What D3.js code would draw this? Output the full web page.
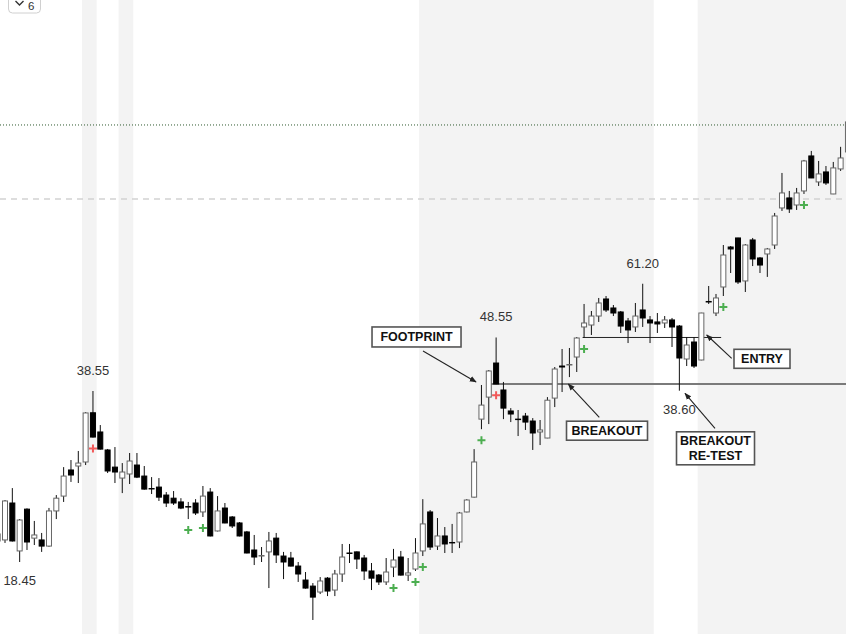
<!DOCTYPE html>
<html>
<head>
<meta charset="utf-8">
<script src="https://cdn.jsdelivr.net/npm/d3@7"></script>
<style>
  html, body { margin: 0; padding: 0; background: #fff; overflow: hidden; }
  svg { display: block; font-family: "Liberation Sans", Arial, Helvetica, sans-serif; }
</style>
</head>
<body>
<svg id="chart" width="846" height="634"></svg>
<script>
// ---- Daily price bars (session index -1 .. 115) ----
const firstIndex = -1;
const opens = [
  20.20, 20.29, 23.79, 19.35, 23.17, 20.45, 20.29, 19.76, 22.99, 24.51,
  27.43, 27.90, 28.39, 35.10, 32.31, 29.90, 27.77, 26.49, 26.96, 28.02,
  26.72, 25.32, 25.48, 24.62, 24.29, 23.90, 23.43, 23.79, 22.89, 24.94,
  21.09, 23.28, 22.40, 21.83, 21.00, 19.43, 18.93, 19.27, 20.45, 18.93,
  18.77, 18.13, 17.07, 16.63, 16.21, 17.21, 16.35, 17.52, 19.18, 19.27,
  18.77, 17.75, 17.44, 16.93, 18.05, 18.85, 17.44, 17.90, 19.35, 22.89,
  19.76, 20.64, 20.07, 20.11, 22.89, 24.40, 34.15, 37.55, 43.49, 38.72,
  35.37, 34.15, 34.60, 33.87, 32.31, 31.48, 37.39, 42.93, 43.12, 44.63,
  50.80, 51.23, 53.25, 57.31, 55.13, 54.19, 52.13, 50.80, 54.66, 52.36,
  51.91, 51.68, 52.36, 51.00, 44.25, 47.61, 44.06, 56.70, 53.95, 60.35,
  71.70, 74.55, 61.94, 73.91, 68.39, 69.58, 72.32, 84.84, 88.58, 85.93,
  91.29, 106.15, 94.90, 99.08, 90.11, 100.37, 108.00
];
const highs = [
  21.00, 24.10, 25.37, 22.20, 23.25, 22.02, 20.91, 23.29, 24.62, 27.77,
  28.63, 29.77, 35.20, 38.55, 33.29, 30.03, 30.28, 28.26, 29.51, 29.51,
  27.90, 26.60, 26.49, 24.94, 25.05, 24.29, 23.90, 24.19, 25.60, 25.37,
  24.51, 23.79, 22.49, 21.92, 21.09, 20.73, 19.68, 21.00, 20.91, 19.27,
  19.27, 18.45, 17.67, 16.85, 17.29, 17.29, 17.83, 19.94, 19.94, 19.31,
  19.02, 18.37, 17.52, 18.77, 19.52, 19.35, 18.77, 20.45, 24.19, 23.08,
  22.30, 21.45, 21.74, 22.89, 24.19, 30.01, 39.56, 42.20, 48.55, 40.08,
  35.81, 35.52, 35.07, 34.30, 34.02, 37.55, 42.75, 46.20, 46.40, 48.65,
  56.09, 54.42, 57.56, 58.05, 55.84, 54.42, 52.81, 56.33, 61.20, 53.25,
  53.95, 53.25, 52.81, 51.23, 48.65, 48.65, 54.00, 60.61, 58.56, 72.32,
  72.01, 74.60, 72.63, 74.55, 68.68, 71.40, 83.03, 98.65, 91.29, 92.48,
  104.34, 108.47, 103.89, 101.65, 103.44, 110.40, 123.97
];
const lows = [
  19.94, 20.03, 20.15, 18.45, 19.43, 19.85, 19.27, 19.70, 22.20, 23.90,
  26.05, 25.93, 28.02, 31.55, 29.95, 27.07, 25.93, 24.83, 25.82, 26.49,
  25.20, 24.73, 24.00, 23.38, 23.59, 23.17, 22.20, 22.59, 22.40, 20.60,
  21.05, 21.80, 21.36, 20.60, 19.15, 18.21, 18.45, 16.49, 18.37, 17.14,
  18.10, 16.93, 16.45, 14.37, 16.07, 15.93, 15.93, 16.93, 18.37, 17.90,
  17.07, 16.35, 16.71, 16.71, 17.29, 17.40, 17.00, 17.75, 18.93, 19.43,
  19.43, 19.18, 19.18, 19.59, 22.85, 24.35, 32.70, 33.43, 39.70, 34.15,
  33.72, 31.75, 32.59, 29.90, 30.54, 31.45, 35.97, 38.38, 40.93, 41.84,
  48.44, 49.07, 51.91, 54.19, 53.25, 49.50, 47.40, 49.71, 50.80, 47.40,
  49.50, 50.58, 46.60, 38.60, 42.93, 42.57, 44.00, 56.09, 53.25, 58.05,
  64.10, 61.14, 59.06, 66.05, 64.10, 63.03, 71.09, 83.75, 83.03, 84.11,
  90.11, 96.50, 93.28, 93.69, 90.05, 99.51, 107.90
];
const closes = [
  20.82, 24.00, 20.20, 22.11, 20.11, 20.73, 19.76, 22.99, 24.29, 26.72,
  26.84, 28.26, 35.07, 31.61, 30.01, 27.31, 27.19, 27.19, 28.51, 26.60,
  25.26, 25.30, 24.40, 23.79, 23.79, 23.28, 23.38, 22.79, 24.51, 20.64,
  22.99, 21.83, 21.55, 20.64, 19.18, 18.85, 18.97, 20.20, 19.02, 18.45,
  18.13, 17.52, 16.49, 15.86, 17.00, 16.28, 17.52, 18.85, 19.14, 18.69,
  17.75, 17.21, 16.93, 17.67, 18.61, 17.44, 17.60, 19.18, 21.74, 19.68,
  20.64, 19.94, 20.03, 22.79, 24.10, 28.39, 36.28, 42.02, 39.73, 35.81,
  34.91, 34.08, 33.72, 32.17, 32.59, 37.05, 42.38, 42.75, 43.21, 48.44,
  51.68, 53.25, 56.33, 54.66, 53.95, 51.00, 50.15, 53.25, 52.81, 51.68,
  51.46, 52.36, 50.80, 44.44, 47.00, 42.93, 53.95, 56.57, 57.56, 69.27,
  71.09, 61.67, 72.32, 68.09, 66.34, 71.09, 81.95, 90.50, 84.47, 90.50,
  103.89, 96.55, 98.23, 94.49, 100.81, 105.24, 122.91
];

// Buy / sell signal sessions
const buySignals = [25, 27, 53, 56, 57, 65, 79, 98, 109];
const sellSignals = [12, 67];

// Shaded session ranges (inclusive)
const shadedRanges = [[11, 12], [16, 17], [57, 88], [95, 115]];

// Price reference levels
const upperDottedLevel = 121.31;
const upperDashedLevel = 88.20;
const footprintIndex = 67;
const pivotRange = [79, 97.7];

// Sessions whose extreme price is printed
const highLabelIndexes = [12, 67, 87];
const lowLabelIndexes = [2, 92];

// Callout text and the point each arrow targets (session index, price)
const calloutTexts = [["FOOTPRINT"], ["BREAKOUT"], ["BREAKOUT", "RE-TEST"], ["ENTRY"]];
const calloutTargets = [[64.26, 40.08], [76.85, 39.73], [92.77, 38.17], [95.73, 49.07]];

// ---- Build ----
const W = 846, H = 634;
const bars = opens.map((o, k) => ({
  i: firstIndex + k, open: o, high: highs[k], low: lows[k], close: closes[k]
}));
const byIndex = new Map(bars.map(d => [d.i, d]));

const x = d3.scaleLinear().domain([-1, 115]).range([-2.33, 847.95]);
const y = d3.scaleLog().domain([18.45, 38.55]).range([562, 391]);

const svg = d3.select("#chart");

// shaded periods
svg.append("g").selectAll("rect").data(shadedRanges).join("rect")
  .attr("x", d => x(d[0] - 0.5))
  .attr("width", d => x(d[1] + 0.5) - x(d[0] - 0.5))
  .attr("y", 0).attr("height", H)
  .attr("fill", "#f3f3f3");

// reference levels across the full width
svg.append("line")
  .attr("x1", 0).attr("x2", W)
  .attr("y1", y(upperDottedLevel)).attr("y2", y(upperDottedLevel))
  .attr("stroke", "#2f5a2f").attr("stroke-width", 1)
  .attr("stroke-dasharray", "1,2");
svg.append("line")
  .attr("x1", 0).attr("x2", W)
  .attr("y1", y(upperDashedLevel)).attr("y2", y(upperDashedLevel))
  .attr("stroke", "#d2d2d2").attr("stroke-width", 1.5)
  .attr("stroke-dasharray", "6,5");

// breakout level from the footprint close, pivot at the footprint high
const fp = byIndex.get(footprintIndex);
svg.append("line")
  .attr("x1", x(footprintIndex - 0.75)).attr("x2", W)
  .attr("y1", y(fp.close)).attr("y2", y(fp.close))
  .attr("stroke", "#7a7a7a").attr("stroke-width", 2);
svg.append("line")
  .attr("x1", x(pivotRange[0] - 0.2)).attr("x2", x(pivotRange[1]))
  .attr("y1", y(fp.high)).attr("y2", y(fp.high))
  .attr("stroke", "#222").attr("stroke-width", 1);

// candles
const bodyW = 5;
const cg = svg.append("g");
cg.selectAll("line").data(bars).join("line")
  .attr("x1", d => x(d.i)).attr("x2", d => x(d.i))
  .attr("y1", d => y(d.high)).attr("y2", d => y(d.low))
  .attr("stroke", "#111").attr("stroke-width", 1);
cg.selectAll("rect").data(bars).join("rect")
  .attr("x", d => x(d.i) - bodyW / 2)
  .attr("width", bodyW)
  .attr("y", d => y(Math.max(d.open, d.close)))
  .attr("height", d => Math.max(0.4, Math.abs(y(d.open) - y(d.close))))
  .attr("fill", d => d.close >= d.open ? "#fff" : "#000")
  .attr("stroke", d => d.close >= d.open ? "#666" : "#000")
  .attr("stroke-width", 1);

// signal crosses under the bar lows
function cross(sel, color) {
  sel.attr("d", d => {
    const cx = x(d), cy = y(byIndex.get(d).low) + 11, r = 4;
    return `M${cx - r},${cy}H${cx + r}M${cx},${cy - r}V${cy + r}`;
  }).attr("stroke", color).attr("stroke-width", 2).attr("fill", "none");
}
svg.append("g").selectAll("path").data(buySignals).join("path").call(cross, "#4cae50");
svg.append("g").selectAll("path").data(sellSignals).join("path").call(cross, "#f25a5a");

// extreme price labels
const fmt = d3.format(".2f");
svg.append("g").selectAll("text").data(highLabelIndexes).join("text")
  .attr("x", d => x(d)).attr("y", d => y(byIndex.get(d).high) - 16)
  .attr("text-anchor", "middle").attr("font-size", 13).attr("fill", "#333")
  .text(d => fmt(byIndex.get(d).high));
svg.append("g").selectAll("text").data(lowLabelIndexes).join("text")
  .attr("x", d => x(d)).attr("y", d => y(byIndex.get(d).low) + 23)
  .attr("text-anchor", "middle").attr("font-size", 13).attr("fill", "#333")
  .text(d => fmt(byIndex.get(d).low));

// callouts: arrow tail offset, box centre offset and box size relative to the target
const calloutLayout = [
  { tail: [-53, -31], box: [-59.5, -45], size: [89, 20] },
  { tail: [31, 33.4], box: [38.7, 46.7], size: [81, 19] },
  { tail: [30, 35], box: [30.5, 55], size: [78, 33] },
  { tail: [25, 23.3], box: [55.3, 23.8], size: [56, 19] }
];
const defs = svg.append("defs");
defs.append("marker")
  .attr("id", "arrowhead")
  .attr("viewBox", "0 0 10 10").attr("refX", 9).attr("refY", 5)
  .attr("markerWidth", 7).attr("markerHeight", 7)
  .attr("markerUnits", "userSpaceOnUse")
  .attr("orient", "auto")
  .append("path").attr("d", "M0,1 L10,5 L0,9 Z").attr("fill", "#222");

const callouts = calloutTexts.map((lines, k) => ({
  lines, tx: x(calloutTargets[k][0]), ty: y(calloutTargets[k][1]), lay: calloutLayout[k]
}));
const cgrp = svg.append("g").selectAll("g").data(callouts).join("g");
cgrp.append("line")
  .attr("x1", d => d.tx + d.lay.tail[0]).attr("y1", d => d.ty + d.lay.tail[1])
  .attr("x2", d => d.tx).attr("y2", d => d.ty)
  .attr("stroke", "#222").attr("stroke-width", 1.1)
  .attr("marker-end", "url(#arrowhead)");
cgrp.append("rect")
  .attr("x", d => d.tx + d.lay.box[0] - d.lay.size[0] / 2)
  .attr("y", d => d.ty + d.lay.box[1] - d.lay.size[1] / 2)
  .attr("width", d => d.lay.size[0]).attr("height", d => d.lay.size[1])
  .attr("fill", "#fff").attr("stroke", "#555").attr("stroke-width", 1.6);
cgrp.each(function (d) {
  const g = d3.select(this);
  const n = d.lines.length, lh = 15;
  d.lines.forEach((t, j) => {
    g.append("text")
      .attr("x", d.tx + d.lay.box[0])
      .attr("y", d.ty + d.lay.box[1] + (j - (n - 1) / 2) * lh + 4.5)
      .attr("text-anchor", "middle")
      .attr("font-size", 12.5).attr("font-weight", "bold").attr("fill", "#111")
      .text(t);
  });
});

// period selector in the corner
const sel = svg.append("g");
sel.append("rect").attr("x", 8.5).attr("y", -8).attr("width", 32).attr("height", 21)
  .attr("rx", 4).attr("fill", "#fff").attr("stroke", "#d0d0d0");
sel.append("path").attr("d", "M15.5,1 L19.5,5 L23.5,1")
  .attr("fill", "none").attr("stroke", "#333").attr("stroke-width", 1.4);
sel.append("text").attr("x", 28).attr("y", 10).attr("font-size", 11.5).attr("fill", "#333").text("6");
</script>
</body>
</html>
